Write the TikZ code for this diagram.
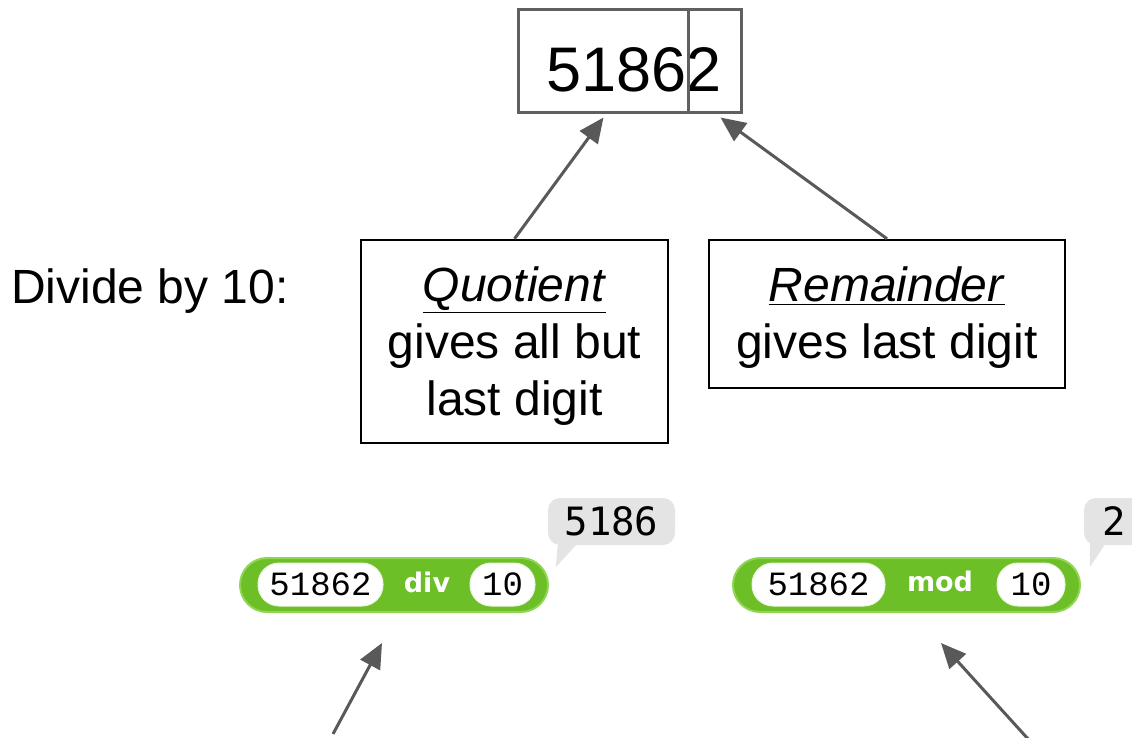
\documentclass[tikz,border=0pt]{standalone}
\usepackage{fontspec}
\setmainfont{Liberation Sans}
\newfontfamily\snapmono{DejaVu Sans Mono}
\newfontfamily\slotmono{Liberation Mono}
\newfontfamily\snapsans{DejaVu Sans}
\usetikzlibrary{arrows.meta,calc}
\definecolor{arrgray}{HTML}{595959}
\definecolor{boxgray}{HTML}{606060}
\definecolor{snapgreen}{HTML}{6CBF26}
\definecolor{snapedge}{HTML}{8FD655}
\definecolor{bubblegray}{HTML}{E4E4E4}
\tikzset{
  bigtext/.style={font=\fontsize{48}{57}\selectfont, align=center, inner sep=0pt},
  textbox/.style={draw=black, line width=2.5pt, inner sep=0pt},
  pointer/.style={draw=arrgray, line width=3pt, -{Triangle[length=25pt,width=22pt]}},
  snapblk/.style={fill=snapgreen, draw=snapedge, line width=2pt, rounded corners=27pt, minimum height=54pt, inner sep=0pt},
  snapslot/.style={fill=white, draw=white!85!snapgreen, line width=1pt, rounded corners=21pt, minimum height=43pt, inner sep=0pt, font=\slotmono\fontsize{34}{34}\selectfont},
  snapop/.style={font=\snapsans\bfseries\fontsize{27}{27}\selectfont, text=white, inner sep=0pt},
  bubble/.style={fill=bubblegray, rounded corners=12pt, minimum height=47pt, inner sep=0pt, font=\snapmono\fontsize{39}{39}\selectfont},
}
\begin{document}
\begin{tikzpicture}[x=1pt,y=-1pt]
\useasboundingbox (0,0) rectangle (1132,738);
% top number box
\node[draw=boxgray, line width=3pt, minimum width=223pt, minimum height=103pt, inner sep=0pt] (num) at (629.5,61.5) {};
\node[anchor=base west, font=\fontsize{63}{63}\selectfont, inner sep=0pt] (digits) at (546,92) {51862};
\draw[boxgray, line width=3pt] ($(num.north west)+(172,0)$) -- ($(num.south west)+(172,0)$);
\coordinate (qtip) at ($(num.south west)+(87,3)$);
\coordinate (rtip) at ($(num.south west)+(204,3)$);
% label
\node[bigtext, anchor=west] (divide) at (11,291) {Divide by 10:};
% quotient / remainder boxes
\node[textbox, minimum width=307pt, minimum height=203pt] (qbox) at (514.5,341.5) {};
\node[bigtext] (qtext) at (514.5,346) {\underline{\textit{Quotient}}\\gives all but\\last digit};
\node[textbox, minimum width=356pt, minimum height=148pt] (rbox) at (887,314) {};
\node[bigtext] (rtext) at (887,318) {\underline{\textit{Remainder}}\\gives last digit};
\draw[pointer] (qbox.north) -- (qtip);
\draw[pointer] (rbox.north) -- (rtip);
% div block
\node[bubble, minimum width=127pt] (b1) at (611.5,521.5) {5186};
\fill[bubblegray] ($(b1.south west)+(10,-2)$) -- ($(b1.south west)+(30,-2)$) -- ($(b1.south west)+(8,22)$) -- cycle;
\node[snapblk, minimum width=308pt] (divb) at (394,585) {};
\node[snapslot, minimum width=125pt] (d1) at (320.5,584.5) {51862};
\node[snapop] (dop) at (427,582) {div};
\node[snapslot, minimum width=65pt] (d2) at (502.5,584.5) {10};
% mod block
\node[bubble, minimum width=60pt] (b2) at (1114,521.5) {2};
\fill[bubblegray] ($(b2.south west)+(6,-2)$) -- ($(b2.south west)+(22,-2)$) -- ($(b2.south west)+(6,22)$) -- cycle;
\node[snapblk, minimum width=347pt] (modb) at (906.5,585) {};
\node[snapslot, minimum width=133pt] (m1) at (818.5,584.5) {51862};
\node[snapop] (mop) at (940,581) {mod};
\node[snapslot, minimum width=68pt] (m2) at (1031,584.5) {10};
% bottom arrows
\coordinate (s1) at (333,734);
\coordinate (s2) at (1029,740);
\draw[pointer] (s1) -- ($(divb.south west)+(143,30)$);
\draw[pointer] (s2) -- ($(modb.south west)+(209,30)$);
\end{tikzpicture}
\end{document}
